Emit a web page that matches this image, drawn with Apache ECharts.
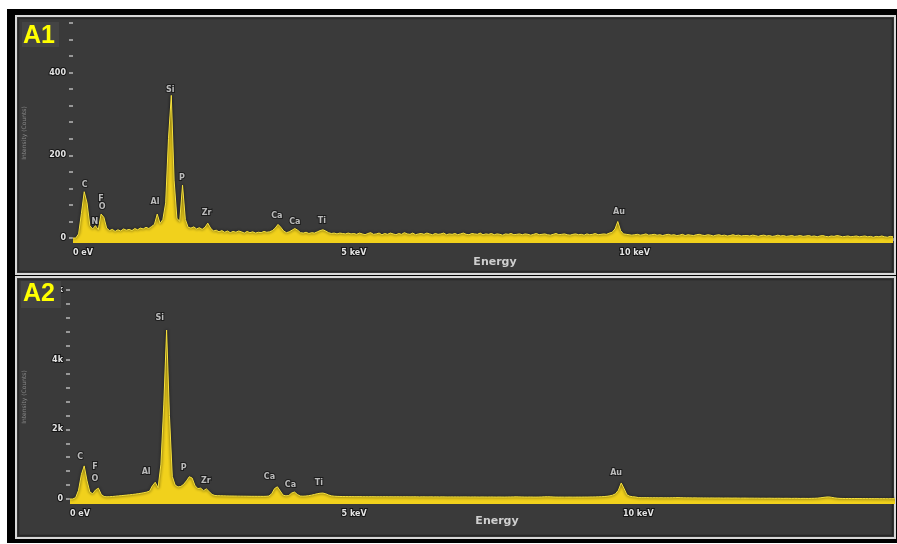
<!DOCTYPE html>
<html><head><meta charset="utf-8">
<script src="https://cdn.jsdelivr.net/npm/echarts@6/dist/echarts.min.js"></script>
<style>html,body{margin:0;padding:0;background:#fff}#c{width:897px;height:544px}</style>
</head><body><div id="c"></div>
<script>
// channel width of both spectra, keV
const energyStep = 0.05;

// A1 spectrum counts, one row per keV (0.00 ... 0.95, 1.00 ...)
const a1Counts = [
  0, 0, 10, 60, 112, 85, 30, 22, 30, 20, 58, 50, 24, 18, 21, 16, 20, 17, 22, 19,
  21, 18, 23, 20, 24, 22, 26, 23, 28, 33, 58, 35, 45, 85, 240, 345, 140, 48, 40, 128,
  45, 26, 24, 27, 22, 25, 21, 26, 36, 24, 17, 19, 15, 18, 14, 17, 13, 16, 14, 17,
  15, 12, 16, 13, 15, 12, 14, 13, 16, 14, 15, 18, 24, 33, 26, 17, 13, 15, 19, 23,
  19, 13, 12, 14, 11, 13, 12, 15, 18, 20, 17, 13, 11, 12, 10, 12, 11, 10, 12, 10,
  11, 9, 12, 10, 8, 11, 13, 9, 10, 12, 8, 11, 9, 12, 10, 8, 11, 9, 13, 10,
  9, 12, 8, 10, 11, 9, 12, 10, 8, 11, 9, 10, 12, 8, 10, 9, 11, 8, 10, 12,
  9, 8, 11, 10, 9, 12, 8, 10, 9, 11, 8, 10, 9, 7, 10, 9, 11, 8, 9, 10,
  8, 10, 9, 7, 9, 11, 8, 9, 10, 8, 7, 9, 11, 8, 9, 10, 8, 7, 9, 10,
  8, 9, 7, 10, 8, 9, 11, 8, 9, 10, 9, 12, 14, 22, 40, 18, 10, 9, 8, 7,
  8, 9, 7, 8, 10, 7, 8, 9, 7, 8, 6, 8, 9, 7, 8, 6, 7, 9, 6, 8,
  7, 6, 8, 9, 7, 6, 8, 7, 5, 7, 8, 6, 7, 5, 6, 8, 6, 7, 5, 6,
  6, 5, 7, 6, 4, 6, 7, 5, 6, 4, 5, 7, 5, 6, 4, 5, 6, 4, 5, 6,
  4, 5, 6, 4, 5, 3, 5, 6, 4, 3, 5, 4, 6, 5, 3, 4, 5, 3, 4, 5,
  3, 4, 5, 3, 4, 2, 4, 3, 5, 3, 2, 4, 3
];

// A2 spectrum counts
const a2Counts = [
  0, 0, 40, 250, 700, 950, 520, 200, 150, 260, 310, 130, 70, 62, 66, 72, 80, 88, 96, 104,
  112, 120, 130, 140, 152, 165, 180, 198, 225, 380, 480, 320, 1000, 2700, 4850, 2400, 650, 400, 345, 360,
  420, 520, 640, 600, 380, 300, 310, 240, 290, 210, 130, 100, 95, 92, 90, 88, 86, 85, 84, 82,
  81, 80, 79, 78, 77, 77, 76, 76, 75, 77, 85, 150, 300, 350, 230, 110, 90, 100, 170, 200,
  130, 85, 80, 85, 95, 110, 130, 150, 165, 170, 150, 115, 90, 80, 75, 72, 70, 70, 68, 68,
  67, 66, 68, 65, 66, 64, 66, 65, 63, 65, 64, 66, 63, 64, 62, 64, 63, 62, 64, 62,
  61, 63, 62, 60, 62, 61, 60, 62, 60, 61, 59, 61, 60, 58, 60, 59, 60, 58, 59, 60,
  58, 57, 59, 58, 56, 58, 57, 56, 58, 57, 55, 57, 56, 55, 57, 58, 60, 62, 60, 58,
  56, 55, 57, 55, 54, 56, 58, 62, 64, 62, 58, 55, 54, 55, 53, 54, 55, 53, 54, 55,
  54, 56, 55, 57, 58, 60, 62, 65, 70, 78, 90, 110, 150, 250, 460, 300, 120, 80, 65, 58,
  40, 38, 37, 39, 36, 35, 37, 34, 36, 33, 35, 34, 36, 38, 40, 37, 34, 32, 33, 31,
  32, 30, 31, 29, 30, 28, 30, 27, 29, 28, 26, 28, 27, 25, 27, 26, 24, 26, 25, 23,
  24, 22, 23, 21, 22, 20, 22, 21, 19, 21, 20, 18, 20, 19, 17, 19, 18, 16, 18, 17,
  16, 18, 20, 24, 32, 44, 54, 60, 48, 32, 22, 17, 15, 13, 15, 12, 14, 12, 13, 11,
  12, 10, 11, 9, 10, 8, 10, 9, 7, 9, 8, 7, 8
];

// element labels: [name, keV, counts]
const a1Peaks = [
  ['C', 0.21, 128], ['N', 0.39, 39], ['F', 0.50, 94], ['O', 0.52, 75],
  ['Al', 1.46, 87], ['Si', 1.73, 357], ['P', 1.94, 145], ['Zr', 2.38, 60],
  ['Ca', 3.63, 53], ['Ca', 3.95, 39], ['Ti', 4.43, 41], ['Au', 9.72, 63]
];
const a2Peaks = [
  ['C', 0.18, 1206], ['F', 0.44, 919], ['O', 0.44, 574], ['Al', 1.34, 775],
  ['Si', 1.58, 5197], ['P', 2.00, 890], ['Zr', 2.39, 517], ['Ca', 3.51, 632],
  ['Ca', 3.88, 402], ['Ti', 4.38, 459], ['Au', 9.61, 746]
];

const a1YTicks = [0, 40, 80, 120, 160, 200, 240, 280, 320, 360, 400, 440, 480, 520];
const a1YLabels = [0, 200, 400];
const a2YTicks = [0, 400, 800, 1200, 1600, 2000, 2400, 2800, 3200, 3600, 4000, 4400, 4800, 5200, 5600, 6000];
const a2YLabels = [0, 2000, 4000, 6000];
const xLabelKeV = [0, 5, 10];

const toPairs = arr => arr.map((c, i) => [Math.round(i * energyStep * 100) / 100, c]);
const peakData = arr => arr.map(p => [p[1], p[2], p[0]]);

const labelFont = {color: '#e4e4e4', fontSize: 8, fontWeight: 'bold', fontFamily: 'DejaVu Sans',
  textBorderColor: '#151515', textBorderWidth: 2};

function xAxisFor(idx, max) {
  return {
    type: 'value', gridIndex: idx, min: 0, max: max, interval: 1,
    axisLine: {show: true, lineStyle: {color: '#262626', width: 1}},
    axisTick: {show: true, length: 3, lineStyle: {color: '#9a9a9a', width: 1}},
    splitLine: {show: false},
    axisLabel: Object.assign({}, labelFont, {
      margin: 6, alignMinLabel: 'left',
      formatter: v => xLabelKeV.indexOf(v) < 0 ? '' : (v === 0 ? '0 eV' : v + ' keV')
    })
  };
}
function yAxisFor(idx, min, max, ticks, labels, fmt) {
  return {
    type: 'value', gridIndex: idx, min: min, max: max,
    name: 'Intensity (Counts)', nameLocation: 'middle', nameRotate: 90,
    nameGap: idx === 0 ? 46 : 43,
    nameTextStyle: {color: '#8a8a8a', fontSize: 6, fontFamily: 'DejaVu Sans'},
    axisLine: {show: false},
    axisTick: {show: true, length: 4, customValues: ticks, lineStyle: {color: '#b8b8b8', width: 1.5}},
    splitLine: {show: false},
    axisLabel: Object.assign({}, labelFont, {margin: 7, customValues: labels, formatter: fmt})
  };
}
function spectrum(idx, counts) {
  return {
    type: 'line', xAxisIndex: idx, yAxisIndex: idx, data: toPairs(counts),
    showSymbol: false, symbol: 'none', clip: true, z: 3,
    lineStyle: {color: '#f7e23c', width: 1, shadowColor: 'rgba(0,0,0,0.95)', shadowBlur: 3},
    areaStyle: {color: '#f1d11c', origin: 'start', opacity: 1}
  };
}
function peakLabels(idx, peaks) {
  return {
    type: 'scatter', xAxisIndex: idx, yAxisIndex: idx, data: peakData(peaks),
    symbolSize: 1, itemStyle: {color: 'rgba(0,0,0,0)'}, z: 5, silent: true,
    label: Object.assign({show: true, position: 'inside', formatter: p => p.value[2]}, labelFont)
  };
}

const chart = echarts.init(document.getElementById('c'), null, {renderer: 'canvas'});
chart.setOption({
  backgroundColor: '#ffffff',
  animation: false,
  grid: [
    {left: 73, right: 4, top: 23, bottom: 301},
    {left: 70, right: 2, top: 290, bottom: 40}
  ],
  xAxis: [xAxisFor(0, 14.6), xAxisFor(1, 14.5)],
  yAxis: [
    yAxisFor(0, -12, 520, a1YTicks, a1YLabels, v => String(v)),
    yAxisFor(1, -144, 6000, a2YTicks, a2YLabels, v => v === 0 ? '0' : (v / 1000) + 'k')
  ],
  series: [spectrum(0, a1Counts), spectrum(1, a2Counts), peakLabels(0, a1Peaks), peakLabels(1, a2Peaks)],
  graphic: [
    {type: 'rect', z: -10, shape: {x: 7, y: 9, width: 900, height: 534}, style: {fill: '#000'}},
    {type: 'rect', z: -9, shape: {x: 16, y: 16, width: 879, height: 258}, style: {fill: '#3a3a3a', stroke: '#d6d6d6', lineWidth: 2}},
    {type: 'rect', z: -8, shape: {x: 18.5, y: 18.5, width: 874, height: 253}, style: {fill: null, stroke: '#262626', lineWidth: 1.5}},
    {type: 'rect', z: -9, shape: {x: 16, y: 277, width: 879, height: 261}, style: {fill: '#3a3a3a', stroke: '#d6d6d6', lineWidth: 2}},
    {type: 'rect', z: -8, shape: {x: 18.5, y: 279.5, width: 874, height: 256}, style: {fill: null, stroke: '#262626', lineWidth: 1.5}},
    {type: 'rect', z: 50, shape: {x: 22, y: 22, width: 37, height: 25}, style: {fill: '#444444'}},
    {type: 'text', z: 51, x: 23, y: 36, style: {text: 'A1', fill: '#ffff00', font: 'bold 25px "Liberation Sans"', verticalAlign: 'middle'}},
    {type: 'rect', z: 50, shape: {x: 21, y: 281, width: 40, height: 27}, style: {fill: '#444444'}},
    {type: 'text', z: 51, x: 23, y: 294, style: {text: 'A2', fill: '#ffff00', font: 'bold 25px "Liberation Sans"', verticalAlign: 'middle'}},
    {type: 'text', z: 51, x: 495, y: 262, style: {text: 'Energy', fill: '#cfcfcf', font: 'bold 11px "DejaVu Sans"', align: 'center', verticalAlign: 'middle'}},
    {type: 'text', z: 51, x: 497, y: 521, style: {text: 'Energy', fill: '#cfcfcf', font: 'bold 11px "DejaVu Sans"', align: 'center', verticalAlign: 'middle'}}
  ]
});
</script></body></html>
